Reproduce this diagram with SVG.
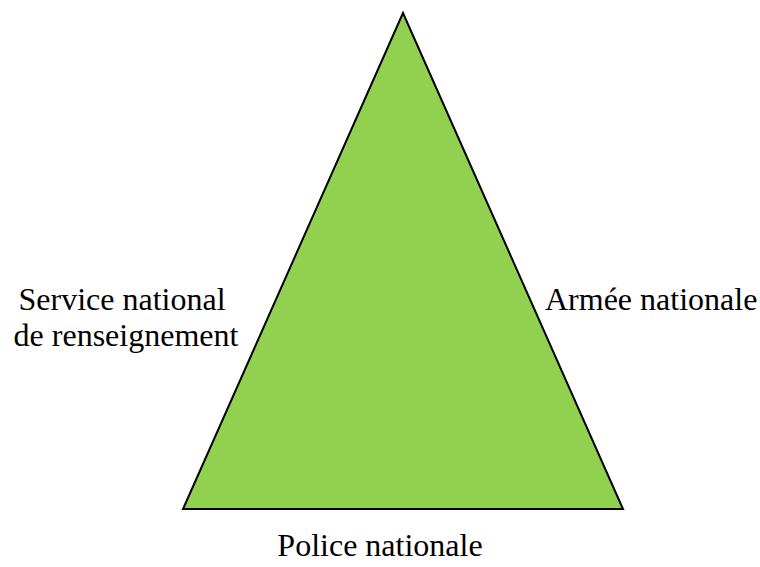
<svg xmlns="http://www.w3.org/2000/svg" width="760" height="567" viewBox="0 0 760 567">
<style>
text{font-family:'Liberation Serif','Times New Roman',Times,'DejaVu Serif',serif;font-size:32px;fill:#000}
</style>
<rect width="760" height="567" fill="#fff"/>
<g id="triangle">
<polygon points="403,13 183,509 623,509" fill="#92D050" stroke="#000" stroke-width="2" stroke-linejoin="miter"/>
</g>
<g id="connectors"></g>
<g id="label-left">
<text x="122" y="310" text-anchor="middle" font-family="Liberation Serif, serif">Service national</text>
<text x="126" y="346" text-anchor="middle" font-family="Liberation Serif, serif">de renseignement</text>
</g>
<g id="label-right">
<text x="545" y="310" font-family="Liberation Serif, serif">Armée nationale</text>
</g>
<g id="label-bottom">
<text x="380" y="556" text-anchor="middle" font-family="Liberation Serif, serif">Police nationale</text>
</g>
</svg>
